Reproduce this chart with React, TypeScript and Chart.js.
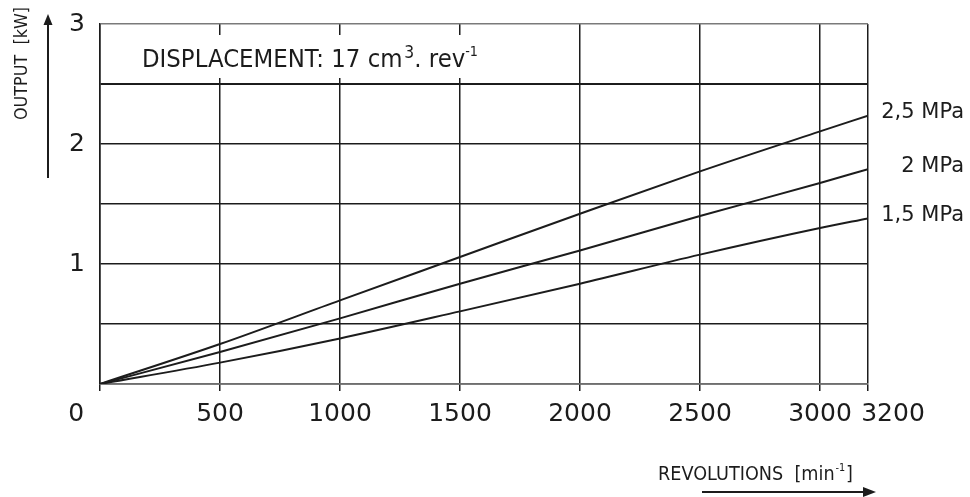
import React, { useEffect, useRef } from "react";
import { Chart, registerables } from "chart.js";

Chart.register(...registerables);

const revolutions = [0, 500, 1000, 1500, 2000, 2500, 3000, 3200];
const output25MPa = [0, 0.333, 0.697, 1.058, 1.419, 1.772, 2.105, 2.236];
const output20MPa = [0, 0.267, 0.547, 0.836, 1.113, 1.4, 1.675, 1.79];
const output15MPa = [0, 0.178, 0.38, 0.605, 0.836, 1.078, 1.3, 1.38];
const seriesLabels = ["2,5 MPa", "2 MPa", "1,5 MPa"];
const xTicks = [0, 500, 1000, 1500, 2000, 2500, 3000, 3200];
const xTickLabels = [
  "0\u2002\u2002\u2002\u2009\u2009",
  "500",
  "1000",
  "1500",
  "2000",
  "2500",
  "3000",
  "\u2002\u2002\u2002\u20023200",
];
const yTickLabels: Record<string, string> = { "1": "1", "2": "2", "3": "3" };
const yTitle = "OUTPUT  [kW]";
const xTitleMain = "REVOLUTIONS  [min";
const xTitleSup = "-1";
const xTitleEnd = "]";
const displacementMain = "DISPLACEMENT: 17 cm";
const displacementSup1 = "3";
const displacementMid = ". rev";
const displacementSup2 = "-1";

const FONT = "'DejaVu Sans', sans-serif";
const INK = "#1c1c1c";

const W = 970;
const H = 497;

function drawArrow(ctx: CanvasRenderingContext2D, x1: number, y1: number, x2: number, y2: number, hl: number, hw: number) {
  const ang = Math.atan2(y2 - y1, x2 - x1);
  const c = Math.cos(ang);
  const s = Math.sin(ang);
  ctx.save();
  ctx.strokeStyle = INK;
  ctx.fillStyle = INK;
  ctx.lineWidth = 2;
  ctx.beginPath();
  ctx.moveTo(x1, y1);
  ctx.lineTo(x2 - c * hl * 0.8, y2 - s * hl * 0.8);
  ctx.stroke();
  ctx.beginPath();
  ctx.moveTo(x2, y2);
  ctx.lineTo(x2 - c * hl - s * hw, y2 - s * hl + c * hw);
  ctx.lineTo(x2 - c * hl + s * hw, y2 - s * hl - c * hw);
  ctx.closePath();
  ctx.fill();
  ctx.restore();
}

type Piece = { text: string; size: number; dy: number; gap: number };

// draws a run of text pieces, squeezed horizontally so it spans [x0, x1]
function drawRun(ctx: CanvasRenderingContext2D, pieces: Piece[], x0: number, x1: number, base: number) {
  let total = 0;
  const widths: number[] = [];
  pieces.forEach((p) => {
    ctx.font = `${p.size}px ${FONT}`;
    const w = ctx.measureText(p.text).width;
    widths.push(w);
    total += w + p.gap;
  });
  const sx = (x1 - x0) / total;
  ctx.save();
  ctx.translate(x0, base);
  ctx.scale(sx, 1);
  ctx.textAlign = "left";
  ctx.textBaseline = "alphabetic";
  let x = 0;
  pieces.forEach((p, i) => {
    ctx.font = `${p.size}px ${FONT}`;
    ctx.fillText(p.text, x, p.dy);
    x += widths[i] + p.gap;
  });
  ctx.restore();
}

const decorPlugin = {
  id: "decor",
  afterDraw(chart: any) {
    const ctx: CanvasRenderingContext2D = chart.ctx;
    const ys = chart.scales.y;
    ctx.save();
    ctx.fillStyle = "#ffffff";
    ctx.fillRect(134, 35, 350, 43);
    ctx.fillStyle = INK;

    drawRun(
      ctx,
      [
        { text: displacementMain, size: 25, dy: 0, gap: 2 },
        { text: displacementSup1, size: 17, dy: -9, gap: 0 },
        { text: displacementMid, size: 25, dy: 0, gap: 0 },
        { text: displacementSup2, size: 14, dy: -11, gap: 0 },
      ],
      142,
      478,
      67
    );

    // series labels at right
    ctx.font = `21px ${FONT}`;
    ctx.textAlign = "right";
    ctx.textBaseline = "middle";
    chart.data.datasets.forEach((ds: any) => {
      const last = ds.data[ds.data.length - 1];
      const py = ys.getPixelForValue(last.y);
      ctx.fillText(ds.label, 964, py - 3);
    });

    // y title (rotated)
    ctx.save();
    ctx.translate(27, 120);
    ctx.rotate(-Math.PI / 2);
    drawRun(ctx, [{ text: yTitle, size: 18, dy: 0, gap: 0 }], 0, 113, 0);
    ctx.restore();

    // x title
    drawRun(
      ctx,
      [
        { text: xTitleMain, size: 20, dy: 0, gap: 1 },
        { text: xTitleSup, size: 11, dy: -9, gap: 1 },
        { text: xTitleEnd, size: 20, dy: 0, gap: 0 },
      ],
      658,
      853,
      480
    );

    // arrows
    drawArrow(ctx, 48, 178, 48, 14, 11, 4.5);
    drawArrow(ctx, 702, 492, 876, 492, 13, 5);

    ctx.restore();
  },
};

function makeData(values: number[]) {
  return revolutions.map((r, i) => ({ x: r, y: values[i] }));
}

export default function App() {
  const ref = useRef<HTMLCanvasElement | null>(null);

  useEffect(() => {
    document.body.style.margin = "0";
    const canvas = ref.current;
    if (!canvas) return;
    const lineStyle = {
      borderColor: INK,
      backgroundColor: INK,
      borderWidth: 2,
      pointRadius: 0,
      cubicInterpolationMode: "monotone" as const,
      fill: false,
    };
    const chart = new Chart(canvas, {
      type: "line",
      data: {
        datasets: [
          { label: seriesLabels[0], data: makeData(output25MPa), ...lineStyle },
          { label: seriesLabels[1], data: makeData(output20MPa), ...lineStyle },
          { label: seriesLabels[2], data: makeData(output15MPa), ...lineStyle },
        ],
      },
      options: {
        animation: false,
        responsive: false,
        maintainAspectRatio: false,
        layout: { padding: { left: 0, top: 24, right: 102, bottom: 0 } },
        plugins: {
          legend: { display: false },
          tooltip: { enabled: false },
        },
        scales: {
          x: {
            type: "linear",
            min: 0,
            max: 3200,
            afterBuildTicks: (scale: any) => {
              scale.ticks = xTicks.map((v) => ({ value: v }));
            },
            afterFit: (scale: any) => {
              scale.height = 113;
              scale.paddingLeft = 0;
              scale.paddingRight = 0;
              scale.paddingTop = 0;
              scale.paddingBottom = 0;
            },
            ticks: {
              autoSkip: false,
              maxRotation: 0,
              padding: 8,
              color: INK,
              font: { family: FONT, size: 25 },
              callback: (v: any) => {
                const i = xTicks.indexOf(Number(v));
                return i >= 0 ? xTickLabels[i] : "";
              },
            },
            grid: {
              color: INK,
              lineWidth: 1.5,
              drawTicks: true,
              tickLength: 7,
              tickColor: INK,
              tickWidth: 1.5,
            },
            border: { display: true, color: "#6e6e6e", width: 1.5 },
          },
          y: {
            type: "linear",
            min: 0,
            max: 3,
            afterFit: (scale: any) => {
              scale.width = 100;
              scale.paddingLeft = 0;
              scale.paddingRight = 0;
              scale.paddingTop = 0;
              scale.paddingBottom = 0;
            },
            ticks: {
              stepSize: 0.5,
              padding: 15,
              color: INK,
              font: { family: FONT, size: 25 },
              callback: (v: any) => yTickLabels[String(v)] ?? "",
            },
            grid: {
              color: (c: any) => (c.tick && c.tick.value === 3 ? "#7a7a7a" : INK),
              lineWidth: (c: any) => (c.tick && c.tick.value === 2.5 ? 2 : 1.5),
              drawTicks: false,
            },
            border: { display: true, color: INK, width: 1.5 },
          },
        },
      },
      plugins: [decorPlugin],
    });
    return () => chart.destroy();
  }, []);

  return (
    <div style={{ position: "fixed", left: 0, top: 0, width: W, height: H, background: "#fff" }}>
      <canvas ref={ref} width={W} height={H} style={{ width: W, height: H, display: "block" }} />
    </div>
  );
}
